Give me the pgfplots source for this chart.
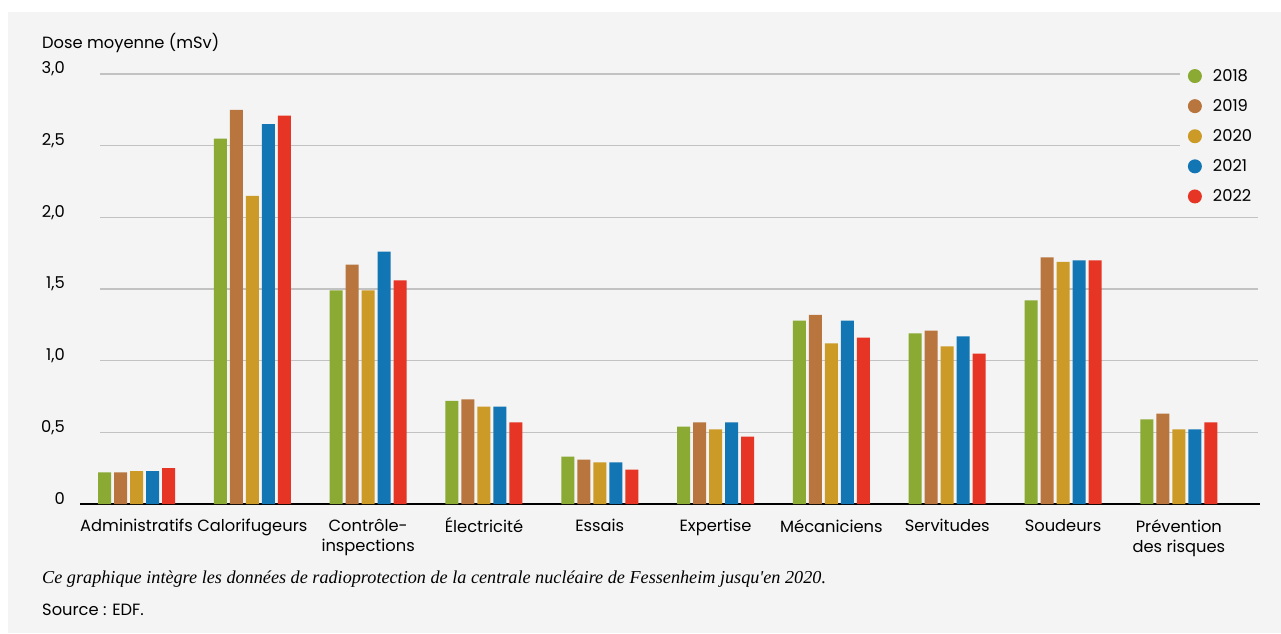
\documentclass[border=0pt]{standalone}
\usepackage{fontspec}
\usepackage{pgfplots}
\usepackage{pgfplotstable}
\pgfplotsset{compat=1.18}
\setmainfont{Poppins}
\newfontfamily\capfont{Liberation Serif}

\definecolor{bgc}{HTML}{F4F4F4}
\definecolor{gridc}{HTML}{C2C2C2}
\definecolor{c18}{HTML}{8BAA34}
\definecolor{c19}{HTML}{B8763E}
\definecolor{c20}{HTML}{CC9A26}
\definecolor{c21}{HTML}{1376B4}
\definecolor{c22}{HTML}{E63524}

% Dose moyenne (mSv) par métier et par année
\pgfplotstableread{
x  y2018 y2019 y2020 y2021 y2022
0  0.22  0.22  0.23  0.23  0.25
1  2.55  2.75  2.15  2.65  2.71
2  1.49  1.67  1.49  1.76  1.56
3  0.72  0.73  0.68  0.68  0.57
4  0.33  0.31  0.29  0.29  0.24
5  0.54  0.57  0.52  0.57  0.47
6  1.28  1.32  1.12  1.28  1.16
7  1.19  1.21  1.10  1.17  1.05
8  1.42  1.72  1.69  1.70  1.70
9  0.59  0.63  0.52  0.52  0.57
}\doses

\pgfplotsset{
  dot legend/.style={
    legend image code/.code={%
      \path[fill=none, draw=none] (0pt,-7pt) rectangle (23pt,7pt);
      \fill[#1] (7pt,0pt) circle (7pt);}
  },
}

\begin{document}
\begin{tikzpicture}
\fill[white] (0pt,0pt) rectangle (1281pt,633pt);
\fill[bgc] (8pt,0pt) rectangle (1281pt,621pt);
\begin{axis}[
  at={(80pt,129pt)}, anchor=south west,
  scale only axis, width=1180pt, height=430pt,
  xmin=-0.488, xmax=9.70, ymin=0, ymax=3.0,
  ybar=3pt, bar width=13pt,
  axis x line*=bottom, axis y line*=left,
  x axis line style={line width=1.8pt, black, -},
  y axis line style={draw=none},
  major tick length=0pt,
  xtick=data,
  xticklabels={Administratifs, Calorifugeurs, {Contrôle-\\inspections}, \smash{É}lectricité, Essais, Expertise, Mécaniciens, Servitudes, Soudeurs, {Prévention\\des risques}},
  xticklabel style={align=center, font=\fontsize{16.3}{20}\selectfont, yshift=-12pt},
  ytick={0,0.5,...,3.0},
  yticklabels={0,{0,5},{1,0},{1,5},{2,0},{2,5},{3,0}},
  yticklabel style={font=\fontsize{16.3}{18}\selectfont, anchor=east, inner sep=0pt, xshift=-15pt, yshift=5pt},
  clip=false,
  legend style={at={(0.932,1.030)}, anchor=north west, draw=none, fill=bgc,
    font=\fontsize{16.3}{18}\selectfont, row sep=12.6pt, inner xsep=8pt, inner ysep=6pt},
  legend cell align=left,
]
\pgfplotsinvokeforeach{0.5,1.0,1.5,2.0,2.5,3.0}{
  \draw[gridc, line width=1.3pt] (axis cs:-0.315,#1) -- (axis cs:9.68,#1);
}
\addplot[fill=c18, draw=none, dot legend] table[x=x, y=y2018] {\doses};
\addplot[fill=c19, draw=none, dot legend] table[x=x, y=y2019] {\doses};
\addplot[fill=c20, draw=none, dot legend] table[x=x, y=y2020] {\doses};
\addplot[fill=c21, draw=none, dot legend] table[x=x, y=y2021] {\doses};
\addplot[fill=c22, draw=none, dot legend] table[x=x, y=y2022] {\doses};
\legend{2018,2019,2020,2021,2022}
\end{axis}
\node[anchor=west, inner sep=0pt, font=\fontsize{16.3}{18}\selectfont] at (42pt,590pt) {Dose moyenne (mSv)};
\node[anchor=west, inner sep=0pt, font=\capfont\itshape\fontsize{18.2}{20}\selectfont] at (42pt,54pt) {Ce graphique intègre les données de radioprotection de la centrale nucléaire de Fessenheim jusqu'en 2020.};
\node[anchor=west, inner sep=0pt, font=\fontsize{16.3}{18}\selectfont] at (42pt,23pt) {Source : EDF.};
\end{tikzpicture}
\end{document}
